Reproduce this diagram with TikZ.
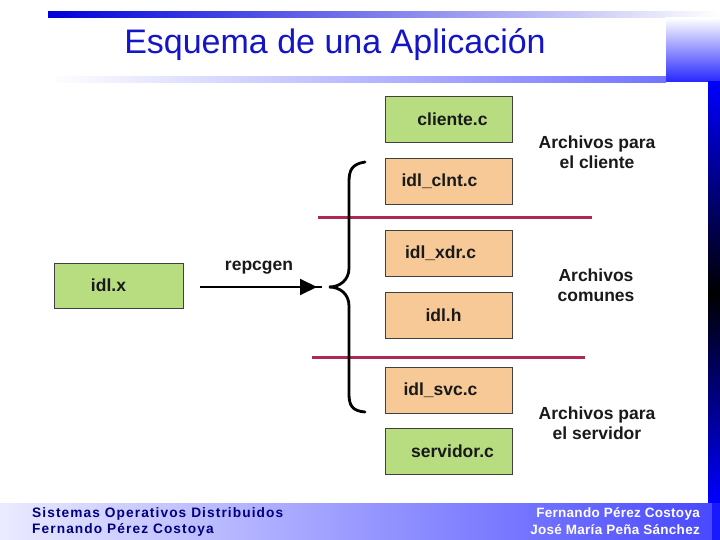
\documentclass[tikz,border=0pt]{standalone}
\usepackage{fontspec}
\setmainfont{Liberation Sans}
\newfontfamily\footfont[LetterSpace=8]{Liberation Sans}
\newfontfamily\footfontr[LetterSpace=2]{Liberation Sans}
\usetikzlibrary{arrows.meta,calc}
\definecolor{boxgreen}{RGB}{183,221,128}
\definecolor{boxtan}{RGB}{247,201,150}
\definecolor{sepred}{RGB}{175,40,85}
\definecolor{titleblue}{RGB}{20,20,200}
\definecolor{footnavy}{RGB}{0,0,128}
\begin{document}
\begin{tikzpicture}[x=1pt,y=-1pt,
  filebox/.style={draw=black!75, line width=0.8pt, minimum width=127pt, minimum height=46pt, inner sep=0pt, font=\fontsize{17.5}{20}\selectfont\bfseries, text=black!90},
  greenbox/.style={filebox, fill=boxgreen},
  tanbox/.style={filebox, fill=boxtan},
  note/.style={align=center, font=\fontsize{17.5}{20}\selectfont\bfseries, text=black!90, inner sep=0pt},
  sepline/.style={draw=sepred, line width=3pt},
  footl/.style={anchor=west, inner sep=0pt, text=footnavy, font=\footfont\fontsize{13.7}{15}\selectfont\bfseries},
  footr/.style={anchor=east, inner sep=0pt, text=white, font=\footfontr\fontsize{13.5}{15}\selectfont\bfseries},
]
\useasboundingbox (0,0) rectangle (720,540);
\fill[white] (0,0) rectangle (720,540);
% slide decoration
\shade[left color=blue!85!black, right color=white] (48,12) rectangle (720,18);
\shade[top color=white, bottom color=blue!85] (666,18) rectangle (720,82);
\shade[left color=white, right color=blue!55] (48,77) rectangle (666,83);
\shade[top color=blue, bottom color=blue, middle color=black] (708,82) rectangle (720,503);
\shade[left color=blue!8, right color=blue!72] (0,503) rectangle (720,540);
\fill[blue!90] (712,503) rectangle (720,540);

% title
\node[font=\fontsize{34}{38}\selectfont, text=titleblue] (title) at (335,45) {Esquema de una Aplicación};

% file boxes
\node[greenbox] (cliente) at (448.5,119) {\kern8pt cliente.c};
\node[tanbox] (clnt) at (448.5,181) {\kern-18pt idl\_clnt.c};
\node[tanbox] (xdr) at (448.5,253) {\kern-16pt idl\_xdr.c};
\node[tanbox] (idlh) at (448.5,315) {\kern-10pt idl.h};
\node[tanbox] (svc) at (448.5,390) {\kern-16pt idl\_svc.c};
\node[greenbox] (servidor) at (448.5,451) {\kern8pt servidor.c};
\node[greenbox, minimum width=129pt, minimum height=45pt] (idlx) at (118.5,285.5) {\kern-20pt idl.x};

% separators
\coordinate (s1a) at (318,218); \coordinate (s1b) at (592,218);
\coordinate (s2a) at (312,357); \coordinate (s2b) at (585,357);
\draw[sepline] (s1a) -- (s1b);
\draw[sepline] (s2a) -- (s2b);

% arrow
\coordinate (arrS) at (200,287);
\coordinate (arrE) at (322,287);
\coordinate (arrTip) at (317,287);
\draw[line width=2pt] (arrS) -- (arrE);
\draw[line width=2pt, -{Triangle[length=17pt,width=16pt]}] (arrS) -- (arrTip);
\node[note] (repcgen) at (259,268) {repcgen};

% brace
\draw[line width=2.8pt, line cap=round]
  (365,162) .. controls (352,164) and (349,170) .. (349,182)
  -- (349,268) .. controls (349,280) and (340,287) .. (329,287)
  .. controls (340,287) and (349,294) .. (349,306)
  -- (349,394) .. controls (349,405) and (352,411) .. (365,412);

% labels
\node[note] (lcli) at (597,152) {Archivos para\\el cliente};
\node[note] (lcom) at (596,285) {Archivos\\comunes};
\node[note] (lsrv) at (597,423) {Archivos para\\el servidor};

% footer
\node[footl] (f1) at (32,514) {Sistemas Operativos Distribuidos};
\node[footl] (f2) at (32,530) {Fernando Pérez Costoya};
\node[footr] (f3) at (700,514) {Fernando Pérez Costoya};
\node[footr] (f4) at (700,530) {José María Peña Sánchez};
\end{tikzpicture}
\end{document}
